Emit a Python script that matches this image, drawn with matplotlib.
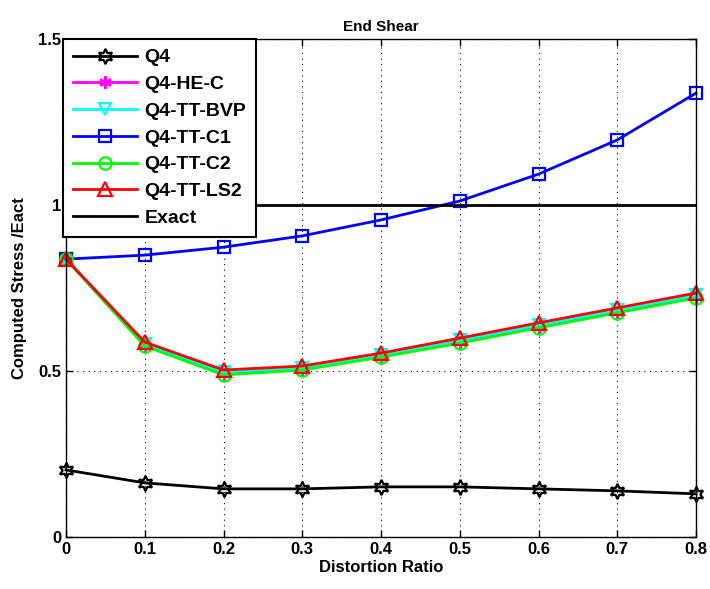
import matplotlib.pyplot as plt
import numpy as np

plt.rcParams["font.family"] = ["Liberation Sans", "DejaVu Sans"]
plt.rcParams["font.weight"] = "bold"

ratio = [0, 0.1, 0.2, 0.3, 0.4, 0.5, 0.6, 0.7, 0.8]
q4 = [0.202, 0.163, 0.145, 0.145, 0.151, 0.151, 0.145, 0.139, 0.130]
q4_he_c = [0.837, 0.577, 0.490, 0.505, 0.544, 0.586, 0.632, 0.677, 0.722]
q4_tt_bvp = [0.837, 0.582, 0.497, 0.510, 0.549, 0.592, 0.638, 0.683, 0.728]
q4_tt_c1 = [0.837, 0.849, 0.873, 0.907, 0.955, 1.012, 1.093, 1.196, 1.337]
q4_tt_c2 = [0.837, 0.575, 0.488, 0.503, 0.542, 0.584, 0.630, 0.675, 0.720]
q4_tt_ls2 = [0.837, 0.587, 0.503, 0.515, 0.554, 0.599, 0.645, 0.690, 0.735]
exact = [1.0] * len(ratio)

fig = plt.figure(figsize=(7.1, 5.89), dpi=100)
ax = fig.add_axes([66 / 710, 1 - 537 / 589, 630 / 710, 498 / 589])

lw = 2
ms = 9
kw = dict(clip_on=False, lw=lw, mew=1.6)
ax.plot(ratio, q4, "-", color="k", marker=(6, 1, 0), ms=11,
        mfc="none", label="Q4", **kw)
ax.plot(ratio, q4_he_c, "-", color="#ff00ff", marker=(6, 2, 0), ms=ms,
        label="Q4-HE-C", **kw)
ax.plot(ratio, q4_tt_bvp, "-", color="#00ffff", marker="v", ms=ms,
        mfc="none", label="Q4-TT-BVP", **kw)
ax.plot(ratio, q4_tt_c1, "-", color="#0000ff", marker="s", ms=8,
        mfc="none", label="Q4-TT-C1", **kw)
ax.plot(ratio, q4_tt_c2, "-", color="#00ff00", marker="o", ms=ms,
        mfc="none", label="Q4-TT-C2", **kw)
ax.plot(ratio, q4_tt_ls2, "-", color="#ff0000", marker="^", ms=10,
        mfc="none", label="Q4-TT-LS2", **kw)
ax.plot(ratio, exact, "-", color="k", lw=lw, label="Exact")

ax.set_xlim(0, 0.8)
ax.set_ylim(0, 1.5)
ax.set_xticks(ratio)
ax.set_xticklabels(["0", "0.1", "0.2", "0.3", "0.4", "0.5", "0.6", "0.7", "0.8"])
ax.set_yticks([0, 0.5, 1, 1.5])
ax.set_yticklabels(["0", "0.5", "1", "1.5"])
ax.tick_params(direction="in", top=True, right=True, labelsize=12, length=5, width=1)
for lab in ax.get_xticklabels() + ax.get_yticklabels():
    lab.set_fontweight("bold")
ax.grid(True, color="k", linestyle=(0, (1, 4)), linewidth=0.8)
for s in ax.spines.values():
    s.set_linewidth(1)

ax.set_xlabel("Distortion Ratio", fontsize=12, fontweight="bold", labelpad=2)
ax.set_ylabel("Computed Stress /Eact", fontsize=12, fontweight="bold", labelpad=8)
ax.set_title("End Shear", fontsize=11, fontweight="bold", pad=6)

leg = ax.legend(loc="upper left", bbox_to_anchor=(-0.005, 1.0), fontsize=14,
                frameon=True, fancybox=False, edgecolor="k", framealpha=1,
                handlelength=3.3, borderpad=0.5, labelspacing=0.47,
                handletextpad=0.4, borderaxespad=0)
leg.get_frame().set_linewidth(1.5)
for t in leg.get_texts():
    t.set_fontweight("bold")

fig.savefig("out.png", dpi=100)
